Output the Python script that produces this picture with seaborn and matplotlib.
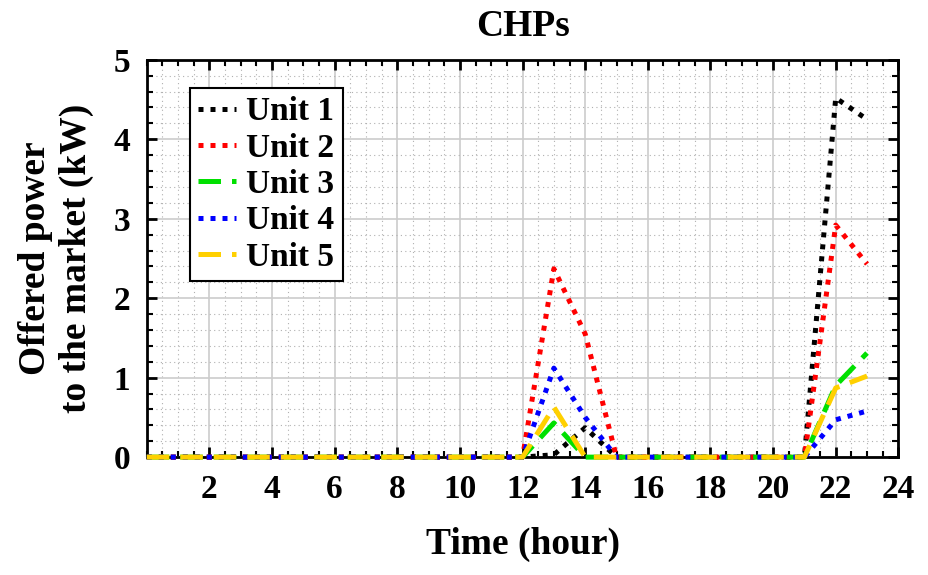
import matplotlib
matplotlib.use('Agg')
import matplotlib.pyplot as plt
from matplotlib.ticker import MultipleLocator
import seaborn as sns
import pandas as pd

hours = list(range(24))
unit1 = [0]*13 + [0.03, 0.37] + [0]*6 + [0, 4.52, 4.25]
unit2 = [0]*13 + [2.37, 1.55] + [0]*6 + [0, 2.92, 2.43]
unit3 = [0]*13 + [0.43, 0.0] + [0]*6 + [0, 0.90, 1.31]
unit4 = [0]*13 + [1.12, 0.50] + [0]*6 + [0, 0.47, 0.58]
unit5 = [0]*13 + [0.63, 0.0] + [0]*6 + [0, 0.87, 1.02]
units = ['Unit 1', 'Unit 2', 'Unit 3', 'Unit 4', 'Unit 5']
colors = ['black', 'red', '#00e000', 'blue', '#ffd000']

frames = []
for name, vals in zip(units, [unit1, unit2, unit3, unit4, unit5]):
    frames.append(pd.DataFrame({'hour': hours, 'power': vals, 'unit': name}))
df = pd.concat(frames)

sns.set_style('white')
plt.rcParams['font.family'] = ['Liberation Serif', 'DejaVu Serif']
plt.rcParams['font.weight'] = 'bold'
plt.rcParams['text.color'] = 'black'
plt.rcParams['axes.labelcolor'] = 'black'
plt.rcParams['xtick.color'] = 'black'
plt.rcParams['ytick.color'] = 'black'

fig = plt.figure(figsize=(9.29, 5.75), dpi=100)
ax = fig.add_axes([0.158, 0.205, 0.809, 0.691])

dashes = {'Unit 1': (1, 1.4), 'Unit 2': (1, 1.4), 'Unit 3': (4.5, 2.2),
          'Unit 4': (1, 1.4), 'Unit 5': (4.5, 2.2)}
sns.lineplot(data=df, x='hour', y='power', hue='unit', style='unit',
             palette=dict(zip(units, colors)), dashes=dashes, linewidth=3.6,
             ax=ax, legend=True)
for ln in ax.get_lines():
    ln.set_clip_on(False)
    ln.set_zorder(5)

ax.set_xlim(0, 24)
ax.set_ylim(0, 5)
ax.xaxis.set_minor_locator(MultipleLocator(0.5))
ax.yaxis.set_major_locator(MultipleLocator(1))
ax.yaxis.set_minor_locator(MultipleLocator(0.2))
ax.set_xticks(range(2, 25, 2))
ax.set_xticklabels([str(i) for i in range(2, 25, 2)])

ax.grid(which='major', color='#cccccc', linewidth=1.2, linestyle='-')
ax.grid(which='minor', color='#b0b0b0', linewidth=0.8, linestyle=(0, (1, 3)))
ax.set_axisbelow(True)

ax.tick_params(which='both', direction='in', top=True, right=True, bottom=True, left=True)
ax.tick_params(which='major', length=7, width=2, labelsize=24, pad=12)
ax.tick_params(which='minor', length=4, width=1.5)
for s in ax.spines.values():
    s.set_visible(True)
    s.set_color('black')
    s.set_linewidth(2)

ax.set_title('CHPs', fontsize=27, fontweight='bold', pad=17)
ax.set_xlabel('Time (hour)', fontsize=27, fontweight='bold', labelpad=16)
ax.set_ylabel('Offered power\nto the market (kW)', fontsize=27, fontweight='bold', labelpad=14)

handles, labels = ax.get_legend_handles_labels()
leg = ax.legend(handles, labels, loc='upper left', bbox_to_anchor=(0.057, 0.929),
                borderaxespad=0, fontsize=24, handlelength=1.15, handletextpad=0.3,
                labelspacing=0.16, borderpad=0.25, fancybox=False, framealpha=1,
                edgecolor='black')
leg.get_frame().set_linewidth(1.5)
for t in leg.get_texts():
    t.set_fontweight('bold')

fig.savefig('out.png', dpi=100)
